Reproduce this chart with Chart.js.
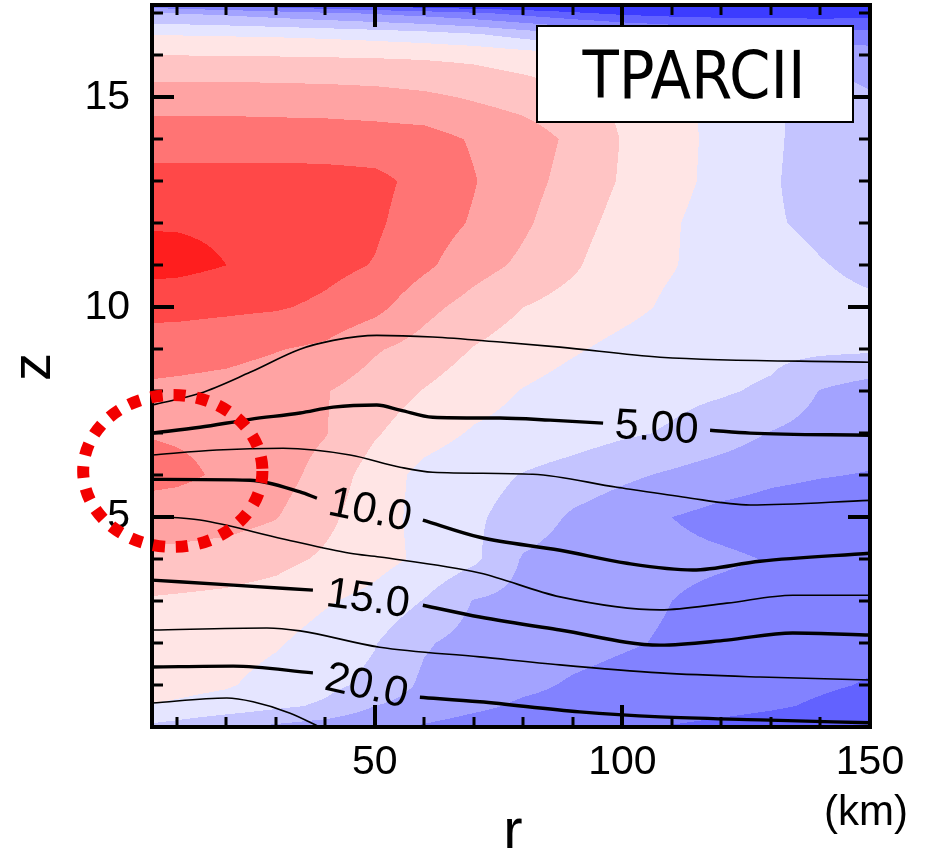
<!DOCTYPE html>
<html>
<head>
<meta charset="utf-8">
<script src="https://cdn.jsdelivr.net/npm/chart.js@4.4.1/dist/chart.umd.min.js"></script>
<style>
html, body { margin: 0; padding: 0; background: #fff; }
#wrap { width: 925px; height: 848px; }
</style>
</head>
<body>
<div id="wrap"><canvas id="c" width="925" height="848"></canvas></div>
<script>
// Analysis grid: radius (km) and height (km)
const radiusKm = [5, 10, 20, 30, 40, 50, 60, 70, 80, 90, 100, 110, 120, 130, 140, 150];
const heightKm = [0, 0.5, 1, 2, 3, 4, 5, 6, 7, 8, 9, 10, 11, 12, 13, 14, 15, 16, 16.5, 17, 17.2];

// Shaded anomaly: one row per height, one value per radius
const anomaly = [
  [-1.2, -1.4, -1.9, -2.2, -2.5, -2.8, -3.1, -3.4, -3.6, -3.8, -3.9, -4.05, -4.2, -4.35, -4.5, -4.6],
  [-0.05, -0.15, -0.4, -0.8, -1.15, -2.0, -2.45, -2.8, -3.15, -3.3, -3.45, -3.6, -3.75, -3.9, -4.1, -4.3],
  [0.35, 0.3, 0.1, -0.35, -0.75, -1.25, -2.2, -2.5, -2.8, -3.1, -3.3, -3.45, -3.6, -3.75, -3.9, -4.05],
  [0.7, 0.6, 0.4, 0.1, -0.4, -0.95, -1.9, -2.35, -2.5, -2.7, -2.9, -3.1, -3.4, -3.6, -3.7, -3.8],
  [0.9, 0.85, 0.75, 0.55, 0.1, -0.3, -1.05, -2.05, -2.3, -2.5, -2.75, -3.0, -3.3, -3.5, -3.65, -3.75],
  [1.75, 1.7, 1.55, 1.3, 0.85, 0.35, -0.2, -0.8, -2.1, -2.5, -2.65, -2.75, -2.85, -3.05, -3.3, -3.4],
  [2.5, 2.5, 2.4, 2.05, 1.25, 0.4, -0.3, -0.85, -1.4, -2.15, -2.6, -3.0, -3.3, -3.45, -3.55, -3.6],
  [3.3, 3.2, 2.85, 2.45, 1.6, 0.55, -0.3, -0.65, -1.05, -1.4, -1.8, -2.15, -2.5, -2.8, -2.95, -3.05],
  [2.95, 2.9, 2.8, 2.55, 2.05, 1.1, 0.4, -0.1, -0.35, -0.55, -0.85, -1.1, -1.5, -2.05, -2.4, -2.6],
  [2.8, 2.75, 2.65, 2.45, 2.05, 1.55, 0.95, 0.4, -0.05, -0.4, -0.6, -0.75, -0.9, -1.15, -2.05, -2.5],
  [3.5, 3.45, 3.3, 3.05, 2.8, 2.1, 1.6, 0.95, 0.5, 0.1, -0.25, -0.5, -0.65, -0.75, -0.8, -0.85],
  [4.3, 4.3, 4.2, 4.1, 3.8, 3.3, 2.3, 1.6, 1.0, 0.6, 0.25, -0.15, -0.4, -0.6, -0.75, -0.85],
  [5.35, 5.3, 5.0, 4.7, 4.3, 3.95, 3.2, 2.4, 1.8, 1.15, 0.35, 0.05, -0.35, -0.6, -0.95, -1.2],
  [4.92, 4.92, 4.85, 4.65, 4.45, 4.15, 3.5, 2.9, 2.15, 1.4, 0.65, 0.1, -0.45, -0.9, -1.2, -1.45],
  [4.4, 4.4, 4.4, 4.4, 4.35, 4.25, 3.7, 3.05, 2.35, 1.65, 0.9, 0.3, -0.3, -0.9, -1.4, -1.6],
  [3.5, 3.5, 3.5, 3.5, 3.5, 3.45, 3.4, 2.9, 2.5, 1.8, 0.95, 0.3, -0.25, -0.85, -1.4, -1.6],
  [2.6, 2.6, 2.6, 2.55, 2.5, 2.4, 2.2, 1.9, 1.6, 1.25, 0.8, 0.3, -0.3, -0.8, -1.5, -1.9],
  [1.0, 1.0, 0.98, 0.96, 0.93, 0.9, 0.85, 0.75, 0.5, 0.2, -0.3, -0.8, -1.3, -1.8, -2.2, -2.5],
  [-0.05, -0.05, -0.1, -0.15, -0.25, -0.4, -0.6, -0.9, -1.4, -1.9, -2.4, -2.8, -3.1, -3.3, -3.5, -3.6],
  [-1.95, -2.0, -2.2, -2.5, -2.8, -3.1, -3.4, -3.8, -4.3, -4.8, -5.2, -5.4, -5.5, -5.5, -5.5, -5.4],
  [-3.6, -3.8, -4.2, -4.6, -5.0, -5.4, -5.8, -6.0, -6.1, -6.2, -6.2, -6.2, -6.2, -6.2, -6.2, -6.2]
];

// Shading: bands below -5, [-5,-4), ..., [4,5), 5 and above
const shadeColors = [
  '#3c3cff', '#6262ff', '#8282ff', '#a3a3ff', '#c4c4ff', '#e5e5ff',
  '#ffe5e5', '#ffc4c4', '#ffa3a3', '#ff7474', '#ff4848', '#ff1e1e'
];

// Thin contour lines, [r km, z km]
const contourA = [[5, 7.67], [14.7, 7.95], [24.8, 8.45], [34.9, 9.0], [41.6, 9.21], [50.4, 9.33], [61.7, 9.29], [75.3, 9.17], [87.4, 9.05], [107.6, 8.81], [150, 8.69]];
const contourC = [[5, 6.48], [18.1, 6.6], [31.5, 6.64], [45, 6.48], [55.1, 6.19], [61.7, 6.07], [81.9, 6.02], [98.9, 5.71], [112.2, 5.48], [125.8, 5.29], [150, 5.4]];
const contourE = [[5, 5.02], [14.7, 4.93], [31.5, 4.48], [45, 4.14], [51, 4.05], [71.2, 3.67], [87.4, 3.1], [107.6, 2.79], [121.1, 2.95], [134.4, 3.14], [150, 3.14]];
const contourG = [[5, 2.31], [28.2, 2.36], [34.9, 2.29], [51, 1.9], [71.2, 1.67], [87.4, 1.48], [107.6, 1.29], [127.8, 1.19], [150, 1.12]];
const contourI = [[5, 0.57], [20.1, 0.69], [25.4, 0.6], [32.9, 0.33], [38.9, 0.0]];

// Labelled contour lines, split where the label sits
const contourLabels = ['5.00', '10.0', '15.0', '20.0'];
const labelledLeft = [
  [[5, 7.0], [14.7, 7.14], [24.8, 7.33], [34.9, 7.48], [41.6, 7.62], [50.4, 7.67], [55.1, 7.55], [61.7, 7.38], [75.3, 7.36], [85.4, 7.31], [96.1, 7.24]],
  [[5, 5.9], [24.8, 5.88], [34.9, 5.6], [38.3, 5.45]],
  [[5, 3.5], [21.4, 3.38], [37.5, 3.26]],
  [[5, 1.43], [21.4, 1.45], [37.5, 1.29]]
];
const labelledRight = [
  [[117.7, 7.07], [125.8, 7.0], [150, 6.95]],
  [[59.7, 4.93], [71.2, 4.52], [87.4, 4.21], [100.9, 3.9], [114.2, 3.74], [127.8, 3.95], [150, 4.14]],
  [[59.7, 2.9], [71.2, 2.62], [87.4, 2.31], [107.6, 1.95], [121.1, 2.07], [134.4, 2.24], [150, 2.19]],
  [[59.1, 0.71], [71.2, 0.6], [91.4, 0.36], [107.6, 0.24], [127.8, 0.17], [150, 0.1]]
];

// Axis ticks
const rTicks = [50, 100, 150];
const rMinor = [10, 20, 30, 40, 60, 70, 80, 90, 110, 120, 130, 140];
const zTicks = [5, 10, 15];
const zMinor = [1, 2, 3, 4, 6, 7, 8, 9, 11, 12, 13, 14, 16, 17];

// Dotted ring around the low-level warm core: centre and half-widths in km
const ringCentre = [9.2, 6.1];
const ringHalf = [18.1, 1.81];

const panelTitle = 'TPARCII';
const SANS = "'Liberation Sans', Arial, Helvetica, sans-serif";

function locate(arr, v) {
  let k = 0;
  while (k < arr.length - 2 && v > arr[k + 1]) k++;
  return k;
}

const shadePlugin = {
  id: 'shade',
  beforeDatasetsDraw(chart) {
    const { ctx, chartArea: a, scales: { x, y } } = chart;
    const w = Math.round(a.right - a.left), h = Math.round(a.bottom - a.top);
    const img = ctx.createImageData(w, h);
    const ci = new Int32Array(w), cf = new Float32Array(w);
    for (let i = 0; i < w; i++) {
      const r = x.getValueForPixel(a.left + i + 0.5);
      const k = locate(radiusKm, r);
      ci[i] = k;
      cf[i] = Math.min(1, Math.max(0, (r - radiusKm[k]) / (radiusKm[k + 1] - radiusKm[k])));
    }
    const rgb = shadeColors.map(c => [parseInt(c.slice(1, 3), 16), parseInt(c.slice(3, 5), 16), parseInt(c.slice(5, 7), 16)]);
    for (let j = 0; j < h; j++) {
      const z = y.getValueForPixel(a.top + j + 0.5);
      const k = locate(heightKm, z);
      const t = Math.min(1, Math.max(0, (z - heightKm[k]) / (heightKm[k + 1] - heightKm[k])));
      const lo = anomaly[k], hi = anomaly[k + 1];
      for (let i = 0; i < w; i++) {
        const c = ci[i], s = cf[i];
        const v0 = lo[c] + (lo[c + 1] - lo[c]) * s;
        const v1 = hi[c] + (hi[c + 1] - hi[c]) * s;
        const v = v0 + (v1 - v0) * t;
        const idx = Math.min(11, Math.max(0, Math.floor(v) + 6));
        const p = (j * w + i) * 4, col = rgb[idx];
        img.data[p] = col[0]; img.data[p + 1] = col[1]; img.data[p + 2] = col[2]; img.data[p + 3] = 255;
      }
    }
    const off = document.createElement('canvas');
    off.width = w; off.height = h;
    off.getContext('2d').putImageData(img, 0, 0);
    ctx.drawImage(off, a.left, a.top);
  }
};

const decorPlugin = {
  id: 'decor',
  afterDatasetsDraw(chart) {
    const { ctx, chartArea: a, scales: { x, y } } = chart;
    ctx.save();

    // contour labels in the gaps of the labelled lines
    ctx.fillStyle = '#000';
    ctx.font = '43px ' + SANS;
    ctx.textAlign = 'center';
    ctx.textBaseline = 'middle';
    contourLabels.forEach((txt, i) => {
      const l = labelledLeft[i][labelledLeft[i].length - 1];
      const r = labelledRight[i][0];
      const x0 = x.getPixelForValue(l[0]), y0 = y.getPixelForValue(l[1]);
      const x1 = x.getPixelForValue(r[0]), y1 = y.getPixelForValue(r[1]);
      ctx.save();
      ctx.translate((x0 + x1) / 2, (y0 + y1) / 2 + 2);
      ctx.rotate(Math.atan2(y1 - y0, x1 - x0));
      ctx.fillText(txt, 0, 0);
      ctx.restore();
    });

    // inward tick marks on all four sides
    ctx.strokeStyle = '#000';
    ctx.lineCap = 'butt';
    const zAll = zTicks.concat(zMinor);
    zAll.forEach(z => {
      const major = zTicks.includes(z);
      const len = major ? 22 : 11;
      ctx.lineWidth = major ? 4 : 3;
      const py = Math.round(y.getPixelForValue(z));
      ctx.beginPath();
      ctx.moveTo(a.left, py); ctx.lineTo(a.left + len, py);
      ctx.moveTo(a.right, py); ctx.lineTo(a.right - len, py);
      ctx.stroke();
    });
    const rAll = rTicks.concat(rMinor);
    rAll.forEach(r => {
      const major = rTicks.includes(r);
      const len = major ? 22 : 10;
      ctx.lineWidth = major ? 4 : 3;
      const px = Math.round(x.getPixelForValue(r));
      ctx.beginPath();
      ctx.moveTo(px, a.bottom); ctx.lineTo(px, a.bottom - len);
      ctx.moveTo(px, a.top); ctx.lineTo(px, a.top + len);
      ctx.stroke();
    });

    // frame
    ctx.lineWidth = 4;
    ctx.strokeRect(a.left, a.top, a.right - a.left, a.bottom - a.top);

    // panel title box
    const bx = a.right - 333, by = a.top + 21, bw = 316, bh = 96;
    ctx.fillStyle = '#fff';
    ctx.fillRect(bx, by, bw, bh);
    ctx.lineWidth = 2;
    ctx.strokeRect(bx, by, bw, bh);
    ctx.fillStyle = '#000';
    ctx.font = "66px 'DejaVu Sans Condensed', 'DejaVu Sans', Verdana, sans-serif";
    ctx.textAlign = 'center';
    ctx.textBaseline = 'alphabetic';
    ctx.fillText(panelTitle, bx + bw / 2 - 1, by + bh / 2 + 24);

    // dotted ring
    const cx = x.getPixelForValue(ringCentre[0]), cy = y.getPixelForValue(ringCentre[1]);
    const rx = x.getPixelForValue(ringCentre[0] + ringHalf[0]) - cx;
    const ry = cy - y.getPixelForValue(ringCentre[1] + ringHalf[1]);
    ctx.strokeStyle = '#f20000';
    ctx.lineWidth = 12;
    ctx.setLineDash([12, 11]);
    ctx.beginPath();
    ctx.ellipse(cx, cy, rx, ry, 0, 0, Math.PI * 2);
    ctx.stroke();
    ctx.setLineDash([]);

    // axis titles
    ctx.fillStyle = '#000';
    ctx.textAlign = 'center';
    ctx.textBaseline = 'alphabetic';
    ctx.font = '58px ' + SANS;
    ctx.fillText('r', (a.left + a.right) / 2 + 2, 849);
    ctx.font = '42px ' + SANS;
    ctx.fillText('(km)', a.right - 4, 825);
    ctx.save();
    ctx.translate(50, (a.top + a.bottom) / 2 + 1);
    ctx.rotate(-Math.PI / 2);
    ctx.font = '56px ' + SANS;
    ctx.fillText('z', 0, 0);
    ctx.restore();

    ctx.restore();
  }
};

const toXY = pts => pts.map(p => ({ x: p[0], y: p[1] }));
const lineSet = (pts, width) => ({
  data: toXY(pts),
  showLine: true,
  borderColor: '#000',
  borderWidth: width,
  pointRadius: 0,
  cubicInterpolationMode: 'monotone',
  fill: false
});

const datasets = [];
[contourA, contourC, contourE, contourG, contourI].forEach(c => datasets.push(lineSet(c, 1.6)));
labelledLeft.forEach(c => datasets.push(lineSet(c, 3.4)));
labelledRight.forEach(c => datasets.push(lineSet(c, 3.4)));

new Chart(document.getElementById('c'), {
  type: 'scatter',
  data: { datasets },
  options: {
    responsive: false,
    animation: false,
    devicePixelRatio: 1,
    layout: { padding: { top: 5, right: 55, bottom: 0, left: 0 } },
    plugins: { legend: { display: false }, tooltip: { enabled: false } },
    scales: {
      x: {
        type: 'linear', min: 5, max: 150, position: 'bottom',
        grid: { display: false, drawTicks: false }, border: { display: false },
        ticks: { font: { family: SANS, size: 41 }, color: '#000', padding: 11, maxRotation: 0, autoSkip: false },
        afterBuildTicks: s => { s.ticks = rTicks.map(v => ({ value: v })); },
        afterFit: s => { s.height = 121; s.paddingLeft = 0; s.paddingRight = 0; }
      },
      y: {
        type: 'linear', min: 0, max: 17.2, position: 'left',
        grid: { display: false, drawTicks: false }, border: { display: false },
        ticks: { font: { family: SANS, size: 41 }, color: '#000', padding: 22, autoSkip: false },
        afterBuildTicks: s => { s.ticks = zTicks.map(v => ({ value: v })); },
        afterFit: s => { s.width = 152; s.paddingTop = 0; s.paddingBottom = 0; }
      }
    }
  },
  plugins: [shadePlugin, decorPlugin]
});
</script>
</body>
</html>
